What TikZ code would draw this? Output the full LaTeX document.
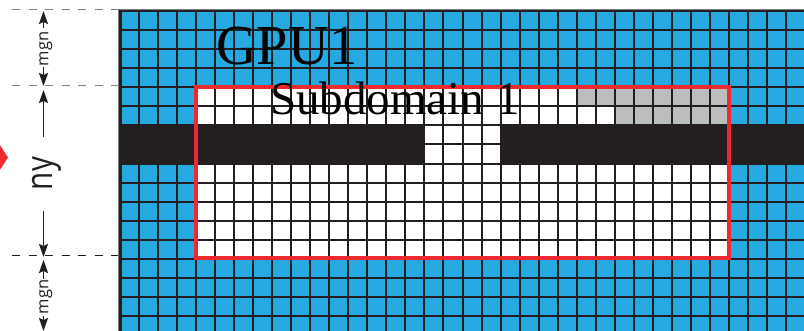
\documentclass[tikz,border=0pt]{standalone}
\usepackage{fontspec}
\setmainfont{Liberation Serif}
\newfontfamily\labelfont{Open Sans}
\usetikzlibrary{arrows.meta}
\definecolor{cellblue}{HTML}{26A9E0}
\definecolor{griddark}{HTML}{231F20}
\definecolor{domred}{HTML}{EE2A2E}
\definecolor{ghostgray}{HTML}{BBBDBF}
\definecolor{dashgray}{HTML}{808080}
\tikzset{
  gridline/.style={griddark,line width=2pt},
  guide/.style={dash pattern=on 8pt off 8.5pt,line width=1pt},
  dim/.style={griddark,line width=1.7pt,-{Stealth[length=13pt,width=9pt,inset=2pt]}},
  small/.style={text=griddark,rotate=90,anchor=base,font=\labelfont\fontsize{16.5}{16.5}\selectfont,inner sep=0pt},
  big/.style={text=griddark,rotate=90,xscale=.8,anchor=base,font=\labelfont\fontsize{37}{37}\selectfont,inner sep=0pt},
  title/.style={black,inner sep=0pt,anchor=base west},
}
\begin{document}
\begin{tikzpicture}[x=1pt,y=-1pt]
\useasboundingbox (0,0) rectangle (804,331);
\begin{scope}
\clip (0,0) rectangle (804,331);
% cells
\fill[cellblue] (120,10) rectangle (804,331);
\fill[white] (196,87) rectangle (729,258);
\fill[ghostgray] (577,87) rectangle (729,106) (615,106) rectangle (729,125);
% grid
\foreach \k in {0,...,35} {\pgfmathsetmacro\gx{round(139+19.03*\k)}\draw[gridline] (\gx,10) -- (\gx,331);}
\foreach \k in {0,...,15} {\pgfmathsetmacro\gy{round(30+19.08*\k)}\draw[gridline] (120,\gy) -- (804,\gy);}
% bar
\fill[griddark] (120,124.5) rectangle (424,163.5) (501,124.5) rectangle (804,163.5);
% frame
\draw[griddark,line width=3.4pt] (120,331) -- (120,10.5) -- (804,10.5);
\draw[dashgray,line width=0.6pt] (118.2,331) -- (118.2,9) -- (804,9);
% red diamond
\fill[domred] (8,157.5) -- (-8,133) -- (-24,157.5) -- (-8,182) -- cycle;
\end{scope}
\node[draw=domred,line width=4pt,outer sep=0pt,minimum width=533pt,minimum height=171pt,inner sep=0pt,anchor=north west] (sub) at (196,87) {};
\node[title,font=\fontsize{56.5}{56.5}\selectfont] (gpu) at (216,65) {GPU1};
\node[title,font=\fontsize{47}{47}\selectfont] (subd) at (270,115) {Subdomain 1};
% guides
\coordinate (g1a) at (12,9.5); \coordinate (g1b) at (118,9.5);
\coordinate (g2a) at (12,86); \coordinate (g2b) at (118,86);
\coordinate (g3a) at (12,256); \coordinate (g3b) at (118,256);
\draw[guide,dashgray] (g1a) -- (g1b);
\draw[guide,dashgray] (g2a) -- (g2b);
\draw[guide,griddark] (g3a) -- (g3b);
% labels
\node[small] (m1) at (48.5,49) {mgn};
\node[big] (ny) at (52,173.5) {ny};
\node[small] (m2) at (48.5,297) {mgn};
% arrow ends
\coordinate (t1) at (43.5,11); \coordinate (t1s) at (43.5,28);
\coordinate (t2) at (43.5,86); \coordinate (t2s) at (43.5,67);
\coordinate (t3) at (43.5,90); \coordinate (t3s) at (43.5,137);
\coordinate (t4) at (43.5,257); \coordinate (t4s) at (43.5,211);
\coordinate (t5) at (43.5,260); \coordinate (t5s) at (43.5,279);
\coordinate (t6) at (43.5,331); \coordinate (t6s) at (43.5,316);
\draw[dim] (t1s) -- (t1);
\draw[dim] (t2s) -- (t2);
\draw[dim] (t3s) -- (t3);
\draw[dim] (t4s) -- (t4);
\draw[dim] (t5s) -- (t5);
\draw[dim] (t6s) -- (t6);
\end{tikzpicture}
\end{document}
